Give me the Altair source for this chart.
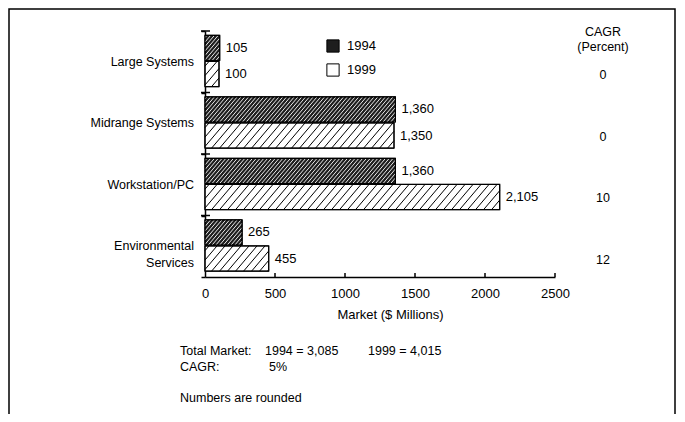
import altair as alt
import pandas as pd
import numpy as np

# ---------------- data ----------------
categories = ["Large Systems", "Midrange Systems", "Workstation/PC", "Environmental Services"]
category_labels = ["Large Systems", "Midrange Systems", "Workstation/PC", "Environmental\nServices"]
years = ["1994", "1999"]
values_1994 = [105, 1360, 1360, 265]
values_1999 = [100, 1350, 2105, 455]
cagr_values = ["0", "0", "10", "12"]
x_ticks = [0, 500, 1000, 1500, 2000, 2500]
x_title = "Market ($ Millions)"
cagr_header = ["CAGR", "(Percent)"]
note_total = ["Total Market:", "1994 = 3,085", "1999 = 4,015"]
note_cagr = ["CAGR:", "5%"]
note_round = "Numbers are rounded"

# ---------------- layout ----------------
W, H = 350, 246
XMAX = 2500
NROWS = len(categories)
BAR_TOP = {"1994": 0.07, "1999": 0.495}
BAR_H = 0.41
FONT = "Liberation Sans"

px_x = W / XMAX
px_y = H / NROWS

rows = []
for i, cat in enumerate(categories):
    for yr, vals in zip(years, [values_1994, values_1999]):
        y0 = i + BAR_TOP[yr]
        rows.append(dict(cat=cat, idx=i, year=yr, value=vals[i], start=0,
                         y0=y0, y1=y0 + BAR_H, ymid=y0 + BAR_H / 2))
bars = pd.DataFrame(rows)

# hatch segments derived from each bar's extent
HATCH = {"1994": dict(spacing=3.8, color="white", width=0.9),
         "1999": dict(spacing=8.0, color="black", width=1.0)}
hrows = []
for _, b in bars.iterrows():
    h_px = BAR_H * px_y
    run = 0.85 * h_px
    w_px = b["value"] * px_x
    sp = HATCH[b["year"]]["spacing"]
    for a in np.arange(-run + sp / 2, w_px, sp):
        t0 = max(0.0, -a / run)
        t1 = min(1.0, (w_px - a) / run)
        if t1 <= t0:
            continue
        hrows.append(dict(year=b["year"],
                          hx=(a + t0 * run) / px_x, hx2=(a + t1 * run) / px_x,
                          hy=b["y1"] - t0 * BAR_H, hy2=b["y1"] - t1 * BAR_H))
hatch = pd.DataFrame(hrows)

labels_df = pd.DataFrame(dict(label=category_labels, idx=[i + 0.5 for i in range(NROWS)]))
cagr_df = pd.DataFrame(dict(v=cagr_values, idx=[i + 0.72 for i in range(NROWS)]))
bounds_df = pd.DataFrame(dict(b=list(range(NROWS))))
xt_df = pd.DataFrame(dict(t=x_ticks[1:]))
one = pd.DataFrame(dict(a=[0]))

xs = alt.Scale(domain=[0, XMAX], nice=False, zero=False)
ys = alt.Scale(domain=[0, NROWS], reverse=True, nice=False, zero=False)

x_axis = alt.Axis(values=x_ticks, format="d", tickSize=0, labelPadding=10, labelFontSize=13,
                  labelFlush=False, labelOverlap=False,
                  labelColor="black", domainColor="black", domainWidth=1.5,
                  grid=False, title=x_title, titleFontSize=13, titleFontWeight="normal",
                  titleColor="black", titlePadding=8, titleX=185)
y_axis = alt.Axis(values=list(range(NROWS + 1)), labels=False, tickSize=4,
                  tickColor="black", tickWidth=1.5, domainColor="black",
                  domainWidth=1.5, grid=False, title=None)


def X(field):
    return alt.X(field, scale=xs, axis=x_axis, title=x_title)


def Y(field):
    return alt.Y(field, scale=ys, axis=y_axis)


base_bar = alt.Chart(bars)

bar_fill = base_bar.mark_rect(stroke="black", strokeWidth=1).encode(
    x=X("start:Q"), x2="value:Q",
    y=Y("y0:Q"), y2="y1:Q",
    fill=alt.Fill("year:N", scale=alt.Scale(domain=years, range=["#1e1e1e", "white"]),
                  legend=alt.Legend(title=None, orient="none", legendX=121, legendY=8,
                                    symbolType="square", symbolSize=150,
                                    symbolStrokeColor="black", symbolStrokeWidth=1,
                                    labelFontSize=13, labelColor="black", labelOffset=7,
                                    rowPadding=6, labelFont=FONT)),
)

hatch_layers = []
for yr in years:
    hatch_layers.append(
        alt.Chart(hatch[hatch["year"] == yr]).mark_rule(
            color=HATCH[yr]["color"], strokeWidth=HATCH[yr]["width"]).encode(
            x=X("hx:Q"), x2="hx2:Q", y=Y("hy:Q"), y2="hy2:Q")
    )

bar_outline = base_bar.mark_rect(filled=False, stroke="black", strokeWidth=1.2).encode(
    x=X("start:Q"), x2="value:Q", y=Y("y0:Q"), y2="y1:Q")

value_text = base_bar.mark_text(align="left", baseline="middle", dx=6, fontSize=13,
                                font=FONT, color="black").encode(
    x=X("value:Q"), y=Y("ymid:Q"),
    text=alt.Text("value:Q", format=","))

cat_text = alt.Chart(labels_df).mark_text(align="right", baseline="middle", fontSize=12.5,
                                          font=FONT, color="black", lineBreak="\n",
                                          lineHeight=17).encode(
    x=alt.value(-11), y=Y("idx:Q"), text="label:N")

cagr_text = alt.Chart(cagr_df).mark_text(align="center", baseline="middle", fontSize=12.5,
                                         font=FONT, color="black").encode(
    x=alt.value(398), y=Y("idx:Q"), text="v:N")


def ann(txt, x, y, align="left"):
    return alt.Chart(one).mark_text(align=align, baseline="middle", fontSize=12.5,
                                    font=FONT, color="black", text=txt).encode(
        x=alt.value(x), y=alt.value(y))


annots = [
    ann(cagr_header[0], 398, 1, "center"),
    ann(cagr_header[1], 398, 16, "center"),
    ann(note_total[0], -25, 320),
    ann(note_total[1], 60, 320),
    ann(note_total[2], 163, 320),
    ann(note_cagr[0], -25, 336),
    ann(note_cagr[1], 64, 336),
    ann(note_round, -25, 367),
]

ytick_right = alt.Chart(bounds_df).mark_rule(color="black", strokeWidth=1.5).encode(
    x=alt.value(-4), x2=alt.value(5), y=Y("b:Q"))

xtick_up = alt.Chart(xt_df).mark_rule(color="black", strokeWidth=1.5).encode(
    x=X("t:Q"), y=alt.value(H - 4), y2=alt.value(H))

border = alt.Chart(one).mark_rect(filled=False, stroke="black", strokeWidth=1.5).encode(
    x=alt.value(-196), x2=alt.value(470), y=alt.value(-22), y2=alt.value(420))

chart = alt.layer(
    bar_fill, *hatch_layers, bar_outline, value_text, cat_text, cagr_text,
    *annots, ytick_right, xtick_up, border
).properties(
    width=W, height=H,
    autosize=alt.AutoSizeParams(type="none"),
    padding={"left": 197, "top": 23, "right": 122, "bottom": 137},
).configure(font=FONT).configure_view(stroke=None)

chart.save("out.html", embed_options={"renderer": "svg", "actions": False})
